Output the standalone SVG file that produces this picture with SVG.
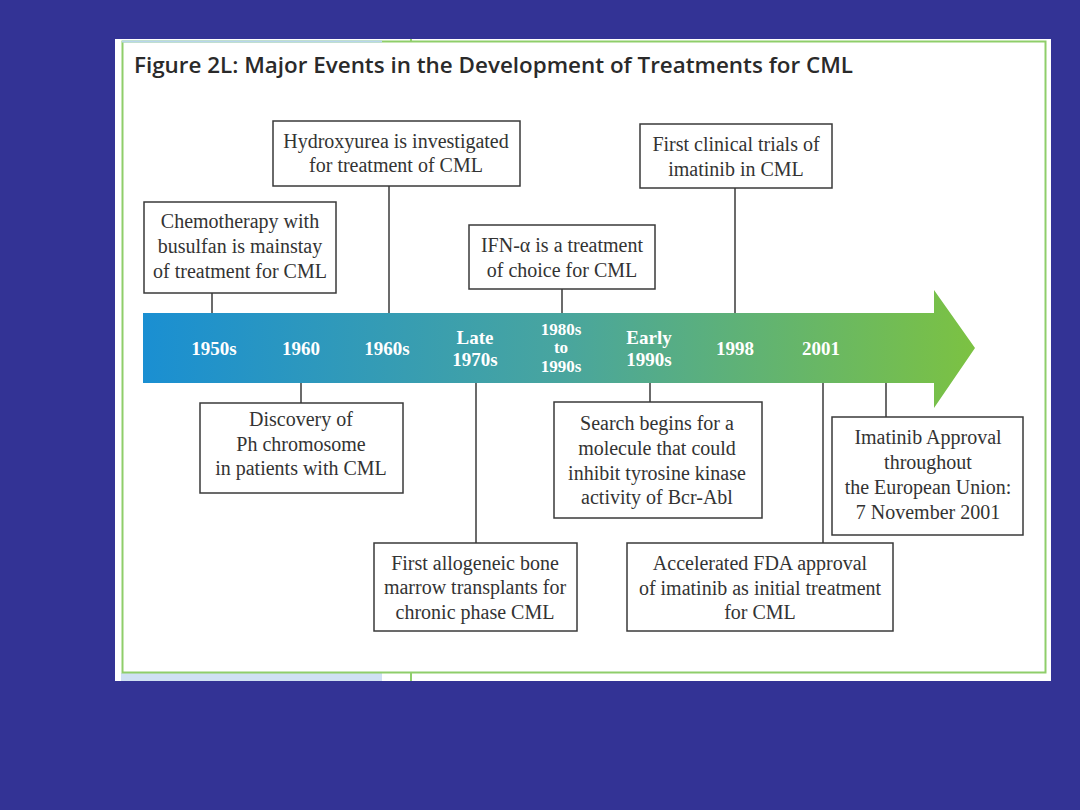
<svg xmlns="http://www.w3.org/2000/svg" width="1080" height="810" viewBox="0 0 1080 810">
<defs>
<linearGradient id="g" x1="143" y1="0" x2="975" y2="0" gradientUnits="userSpaceOnUse">
<stop offset="0" stop-color="#1a8fd2"/>
<stop offset="0.5" stop-color="#48a59f"/>
<stop offset="1" stop-color="#7cc242"/>
</linearGradient>
<style>
.box{fill:#fff;stroke:#3a3a3a;stroke-width:1.5}
.t{font-family:"Liberation Serif",serif;font-size:20px;fill:#333;text-anchor:middle}
.y{font-family:"Liberation Serif",serif;font-size:19px;font-weight:bold;fill:#fff;text-anchor:middle}
.s{font-size:17px}
.c{stroke:#3a3a3a;stroke-width:1.5;fill:none}
</style>
</defs>
<rect x="0" y="0" width="1080" height="810" fill="#333395"/>
<rect x="115" y="39" width="936" height="642" fill="#fff"/>
<rect x="121" y="673" width="261" height="8" fill="#cfe0f3"/>
<rect x="122.5" y="41.5" width="923" height="631" fill="none" stroke="#8fce6a" stroke-width="2"/>
<line x1="122" y1="41.5" x2="382" y2="41.5" stroke="#b9d6ec" stroke-width="2"/>
<line x1="411" y1="39" x2="411" y2="42" stroke="#8fce6a" stroke-width="2"/>
<line x1="411" y1="673" x2="411" y2="681" stroke="#8fce6a" stroke-width="2"/>
<text x="134" y="73" font-family="Open Sans, sans-serif" font-size="22" font-weight="600" fill="#2a2a2a" textLength="719" lengthAdjust="spacingAndGlyphs">Figure 2L: Major Events in the Development of Treatments for CML</text>

<g id="timeline">
<polygon points="143,313 934,313 934,290 975,348 934,408 934,383 143,383" fill="url(#g)"/>
<text class="y" x="214" y="355">1950s</text>
<text class="y" x="301" y="355">1960</text>
<text class="y" x="387" y="355">1960s</text>
<text class="y" x="475" y="344">Late</text>
<text class="y" x="475" y="366">1970s</text>
<text class="y s" x="561" y="335">1980s</text>
<text class="y s" x="561" y="353">to</text>
<text class="y s" x="561" y="372">1990s</text>
<text class="y" x="649" y="344">Early</text>
<text class="y" x="649" y="366">1990s</text>
<text class="y" x="735" y="355">1998</text>
<text class="y" x="821" y="355">2001</text>
</g>

<g id="connectors">
<line class="c" x1="212" y1="293" x2="212" y2="313"/>
<line class="c" x1="389" y1="186" x2="389" y2="313"/>
<line class="c" x1="562" y1="289" x2="562" y2="313"/>
<line class="c" x1="735" y1="188" x2="735" y2="313"/>
<line class="c" x1="301" y1="383" x2="301" y2="403"/>
<line class="c" x1="476" y1="383" x2="476" y2="543"/>
<line class="c" x1="650" y1="383" x2="650" y2="402"/>
<line class="c" x1="823" y1="383" x2="823" y2="543"/>
<line class="c" x1="886" y1="383" x2="886" y2="417"/>
</g>

<g id="n1">
<rect class="box" x="144" y="202" width="192" height="91"/>
<text class="t" x="240" y="228">Chemotherapy with</text>
<text class="t" x="240" y="253">busulfan is mainstay</text>
<text class="t" x="240" y="278">of treatment for CML</text>
</g>
<g id="n2">
<rect class="box" x="273" y="121" width="247" height="65"/>
<text class="t" x="396" y="148">Hydroxyurea is investigated</text>
<text class="t" x="396" y="172">for treatment of CML</text>
</g>
<g id="n3">
<rect class="box" x="469" y="225" width="186" height="64"/>
<text class="t" x="562" y="252">IFN-α is a treatment</text>
<text class="t" x="562" y="277">of choice for CML</text>
</g>
<g id="n4">
<rect class="box" x="640" y="124" width="192" height="64"/>
<text class="t" x="736" y="151">First clinical trials of</text>
<text class="t" x="736" y="176">imatinib in CML</text>
</g>
<g id="n5">
<rect class="box" x="200" y="403" width="203" height="90"/>
<text class="t" x="301" y="426">Discovery of</text>
<text class="t" x="301" y="451">Ph chromosome</text>
<text class="t" x="301" y="475">in patients with CML</text>
</g>
<g id="n6">
<rect class="box" x="374" y="543" width="203" height="88"/>
<text class="t" x="475" y="570">First allogeneic bone</text>
<text class="t" x="475" y="594">marrow transplants for</text>
<text class="t" x="475" y="619">chronic phase CML</text>
</g>
<g id="n7">
<rect class="box" x="554" y="402" width="208" height="116"/>
<text class="t" x="657" y="430">Search begins for a</text>
<text class="t" x="657" y="455">molecule that could</text>
<text class="t" x="657" y="480">inhibit tyrosine kinase</text>
<text class="t" x="657" y="504">activity of Bcr-Abl</text>
</g>
<g id="n8">
<rect class="box" x="627" y="543" width="266" height="88"/>
<text class="t" x="760" y="570">Accelerated FDA approval</text>
<text class="t" x="760" y="595">of imatinib as initial treatment</text>
<text class="t" x="760" y="619">for CML</text>
</g>
<g id="n9">
<rect class="box" x="832" y="417" width="191" height="118"/>
<text class="t" x="928" y="444">Imatinib Approval</text>
<text class="t" x="928" y="469">throughout</text>
<text class="t" x="928" y="494">the European Union:</text>
<text class="t" x="928" y="519">7 November 2001</text>
</g>
</svg>
